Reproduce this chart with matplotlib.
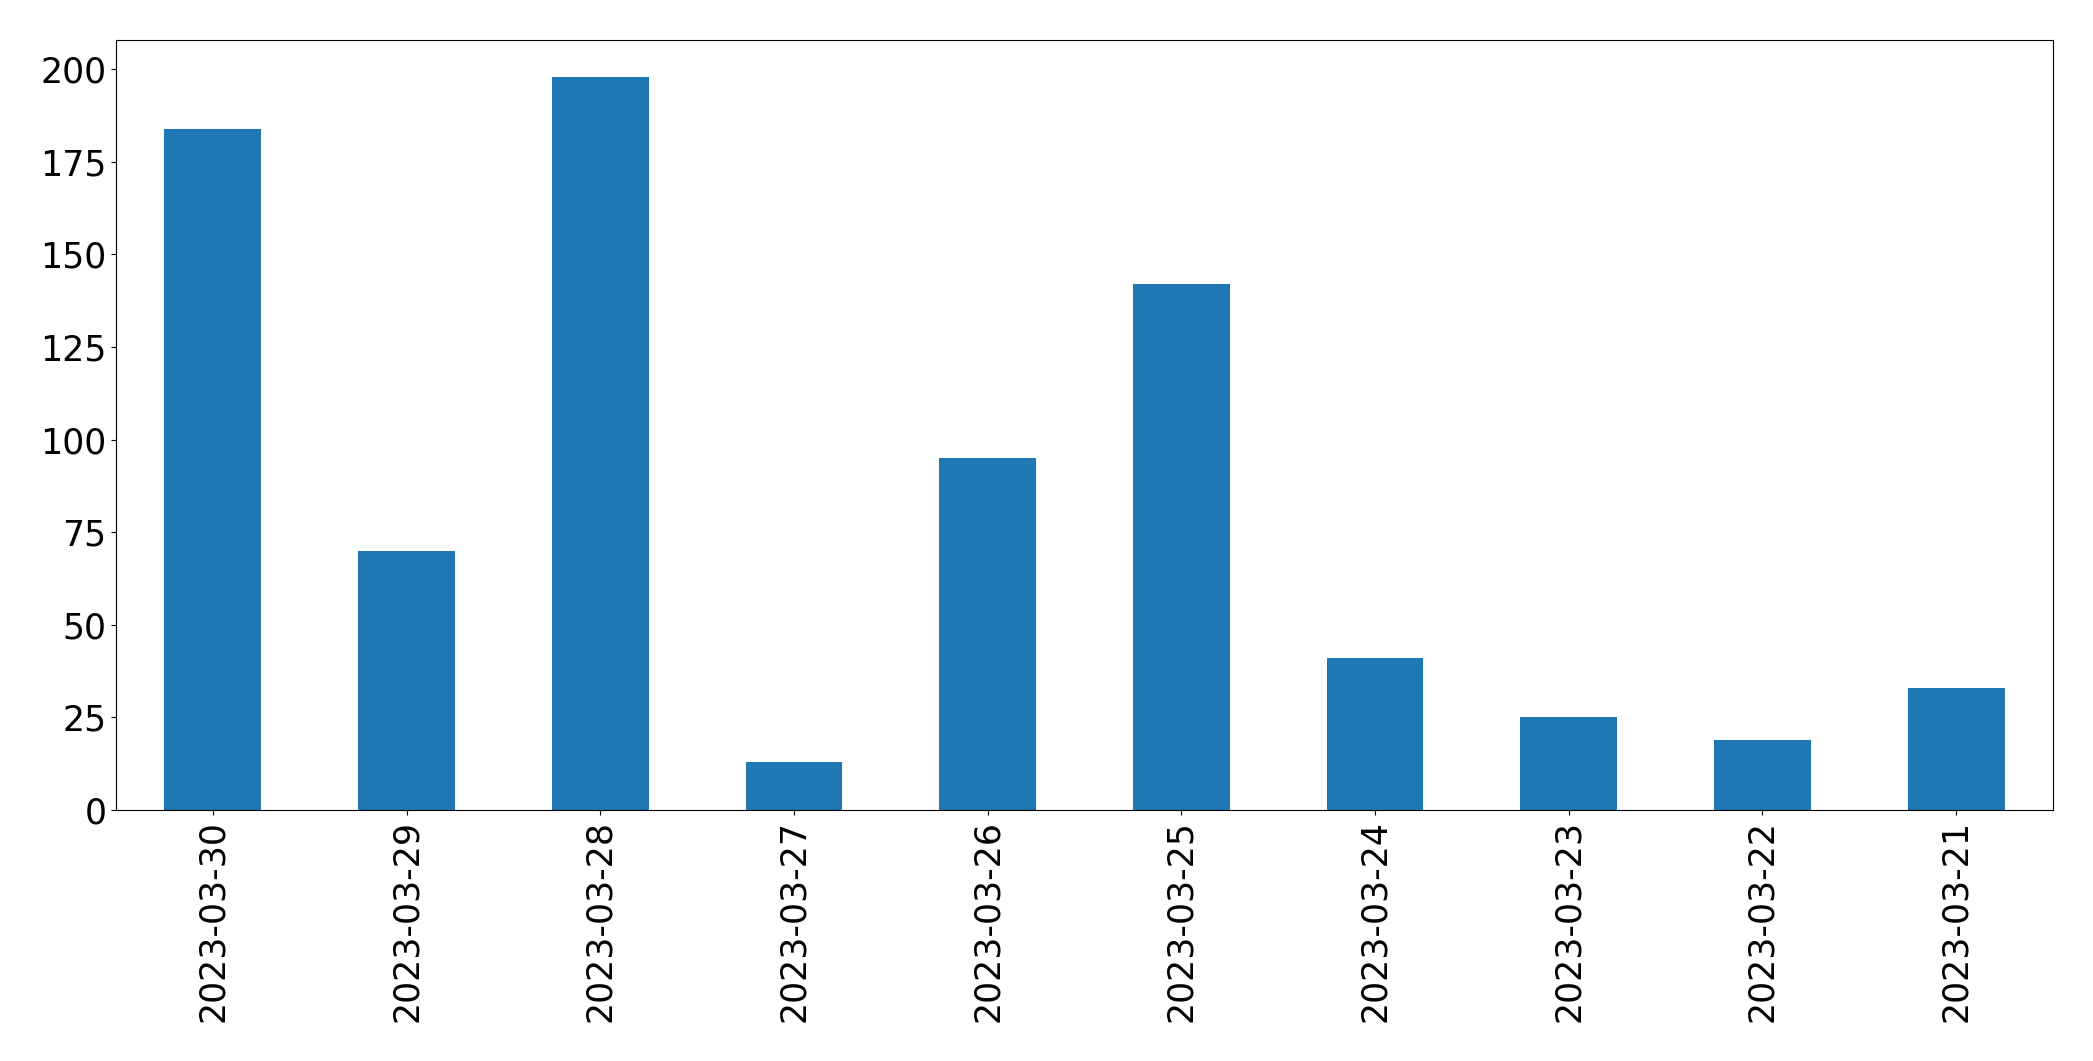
import matplotlib
matplotlib.use('Agg')
import matplotlib.pyplot as plt
import pandas as pd

dates = ['2023-03-30', '2023-03-29', '2023-03-28', '2023-03-27', '2023-03-26',
         '2023-03-25', '2023-03-24', '2023-03-23', '2023-03-22', '2023-03-21']
counts = [184, 70, 198, 13, 95, 142, 41, 25, 19, 33]

s = pd.Series(counts, index=dates)

fig = plt.figure(figsize=(20.93, 10.61), dpi=100)
ax = fig.add_axes([116 / 2093, 1 - 810 / 1061, (2053 - 116) / 2093, (810 - 40) / 1061])
s.plot(kind='bar', ax=ax, fontsize=25)

fig.savefig('out.png', dpi=100)
